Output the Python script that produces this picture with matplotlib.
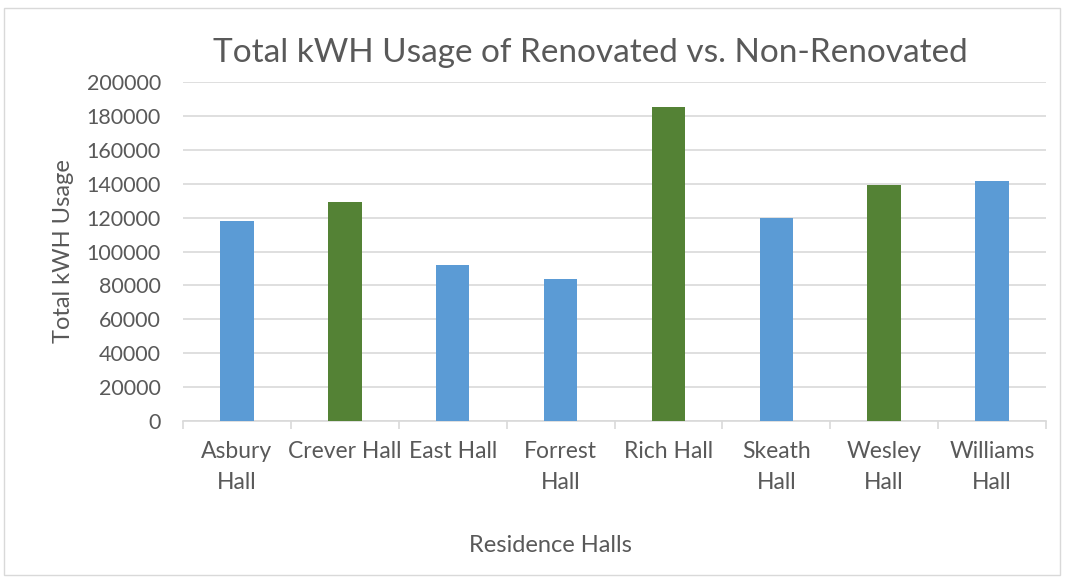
import numpy as np
import matplotlib
matplotlib.use("Agg")
import matplotlib.pyplot as plt
from matplotlib.patches import Rectangle

halls = ["Asbury\nHall", "Crever Hall", "East Hall", "Forrest\nHall", "Rich Hall",
         "Skeath\nHall", "Wesley\nHall", "Williams\nHall"]
usage = [118000, 129200, 92200, 83900, 185100, 119800, 139200, 141600]
renovated = [False, True, False, False, True, False, True, False]
yticks = list(range(0, 200001, 20000))

BLUE, GREEN = "#5B9BD5", "#548235"
TXT, GRID = "#595959", "#D9D9D9"
plt.rcParams["font.family"] = ["Lato", "DejaVu Sans"]

fig = plt.figure(figsize=(10.65, 5.8), dpi=100)
fig.patches.append(Rectangle((4 / 1065, 5 / 580), 1056 / 1065, 567 / 580,
                             transform=fig.transFigure, fill=False,
                             edgecolor=GRID, linewidth=1))
ax = fig.add_axes([183 / 1065, 1 - 421 / 580, 863 / 1065, 339 / 580])

x = np.arange(len(halls))
colors = [GREEN if r else BLUE for r in renovated]
ax.bar(x, usage, width=0.31, color=colors, zorder=3)

ax.set_xlim(-0.5, len(halls) - 0.5)
ax.set_ylim(0, 200000)
ax.set_yticks(yticks)
ax.set_yticklabels([str(v) for v in yticks], fontsize=15.5, color=TXT)
ax.yaxis.grid(True, color=GRID, linewidth=1.2, zorder=0)
ax.tick_params(axis="y", length=0, pad=16)

ax.set_xticks(x)
ax.set_xticklabels(halls, fontsize=16.5, color=TXT, linespacing=1.58)
ax.tick_params(axis="x", which="major", length=0, pad=14.5)
ax.set_xticks(np.arange(len(halls) + 1) - 0.5, minor=True)
ax.tick_params(axis="x", which="minor", length=6, color=GRID, width=1.2)

for s in ["top", "right", "left"]:
    ax.spines[s].set_visible(False)
ax.spines["bottom"].set_color(GRID)
ax.spines["bottom"].set_linewidth(1.2)

fig.text(590 / 1065, 1 - 53 / 580, "Total kWH Usage of Renovated vs. Non-Renovated",
         ha="center", va="center", fontsize=24, color=TXT)
fig.text(63 / 1065, 1 - 251 / 580, "Total kWH Usage", rotation=90,
         ha="center", va="center", fontsize=17, color=TXT)
fig.text(550 / 1065, 1 - 545 / 580, "Residence Halls",
         ha="center", va="center", fontsize=17, color=TXT)

fig.savefig("out.png", dpi=100)
